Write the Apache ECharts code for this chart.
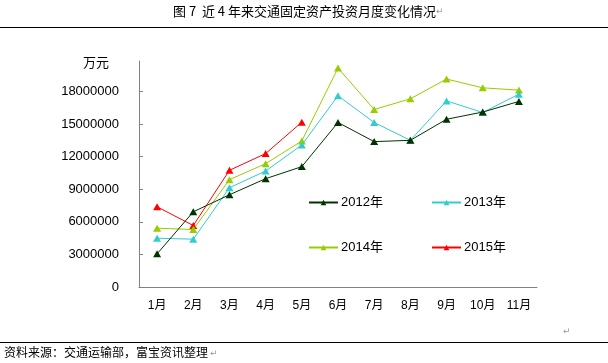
<!DOCTYPE html>
<html><head><meta charset="utf-8">
<script src="https://cdn.jsdelivr.net/npm/echarts@6/dist/echarts.min.js"></script>
<style>html,body{margin:0;padding:0;background:#fff}#c{width:608px;height:363px}</style>
</head><body><div id="c"></div>
<script>
var categories = ['1月','2月','3月','4月','5月','6月','7月','8月','9月','10月','11月'];
var seriesNames = ['2012年','2013年','2014年','2015年'];
var y2012 = [3050000, 6920000, 8490000, 9970000, 11080000, 15140000, 13380000, 13500000, 15440000, 16100000, 17080000];
var y2013 = [4490000, 4400000, 9140000, 10670000, 13070000, 17600000, 15140000, 13500000, 17130000, 16060000, 17750000];
var y2014 = [5410000, 5290000, 9880000, 11350000, 13440000, 20150000, 16340000, 17320000, 19140000, 18330000, 18120000];
var y2015 = [7380000, 5660000, 10740000, 12280000, 15170000];
var yTicks = [0, 3000000, 6000000, 9000000, 12000000, 15000000, 18000000];
var colors = ['#003300', '#33cccc', '#99cc00', '#ff0000'];
var FONT = "'Liberation Sans','Noto Sans CJK SC',sans-serif";

var chart = echarts.init(document.getElementById('c'), null, {renderer:'canvas'});
var data = [y2012, y2013, y2014, y2015];
var series = seriesNames.map(function(n, i){
  return {
    name: n, type: 'line', data: data[i],
    symbol: 'triangle', symbolSize: [8, 7],
    lineStyle: {width: 1, color: colors[i]},
    itemStyle: {color: colors[i]},
    z: 10 - i,
    animation: false
  };
});
function legendAt(name, left, top){
  return {
    data: [name], left: left, top: top, orient: 'horizontal',
    itemWidth: 29, itemHeight: 7, itemGap: 0,
    textStyle: {fontFamily: FONT, fontSize: 13, color: '#000', padding: [0,0,0,-2]},
    padding: 0
  };
}
chart.setOption({
  animation: false,
  backgroundColor: '#fff',
  grid: {left: 139, right: 71, top: 61, bottom: 76, containLabel: false},
  legend: [
    legendAt('2012年', 308, 196),
    legendAt('2013年', 431, 196),
    legendAt('2014年', 308, 241),
    legendAt('2015年', 431, 241)
  ],
  xAxis: {
    type: 'category', data: categories, boundaryGap: true,
    axisLine: {lineStyle: {color: '#808080', width: 1}},
    axisTick: {inside: true, length: 4, alignWithLabel: false, lineStyle: {color: '#808080'}},
    axisLabel: {fontFamily: FONT, fontSize: 12, color: '#000', margin: 13, interval: 0},
    splitLine: {show: false}
  },
  yAxis: {
    type: 'value', min: 0, max: 20800000, interval: 3000000,
    name: '万元', nameLocation: 'end', nameGap: -8,
    nameTextStyle: {fontFamily: "'Noto Sans CJK SC',sans-serif", fontSize: 13, color: '#000', align: 'right', padding: [0, 30, 0, 0]},
    axisLine: {show: true, lineStyle: {color: '#808080', width: 1}},
    axisTick: {show: true, inside: true, length: 4, lineStyle: {color: '#808080'}, customValues: yTicks},
    axisLabel: {fontFamily: FONT, fontSize: 13, color: '#000', margin: 20, customValues: yTicks,
      formatter: function(v){ return String(v); }},
    splitLine: {show: false}
  },
  series: series,
  graphic: [
    {type: 'text', left: 173, top: 5, style: {
      text: '{a|图 7  近 4 年来交通固定资产投资月度变化情况}{b|↵}',
      rich: {
        a: {fontFamily: "'Noto Sans CJK SC',sans-serif", fontSize: 13, fill: '#000', color: '#000'},
        b: {fontFamily: "'DejaVu Sans',sans-serif", fontSize: 9, color: '#999', fill: '#999'}
      }
    }},
    {type: 'line', shape: {x1: 0, y1: 27.5, x2: 608, y2: 27.5}, style: {stroke: '#000', lineWidth: 1}},
    {type: 'line', shape: {x1: 0, y1: 342.5, x2: 608, y2: 342.5}, style: {stroke: '#000', lineWidth: 1}},
    {type: 'text', left: 4, top: 346, style: {text: '资料来源：交通运输部，富宝资讯整理', font: "12px 'Noto Sans CJK SC',sans-serif", fill: '#000'}},
    {type: 'text', left: 210, top: 349, style: {text: '↵', font: "9px 'DejaVu Sans',sans-serif", fill: '#999'}},
    {type: 'text', left: 563, top: 327, style: {text: '↵', font: "9px 'DejaVu Sans',sans-serif", fill: '#999'}}
  ]
});
</script></body></html>
